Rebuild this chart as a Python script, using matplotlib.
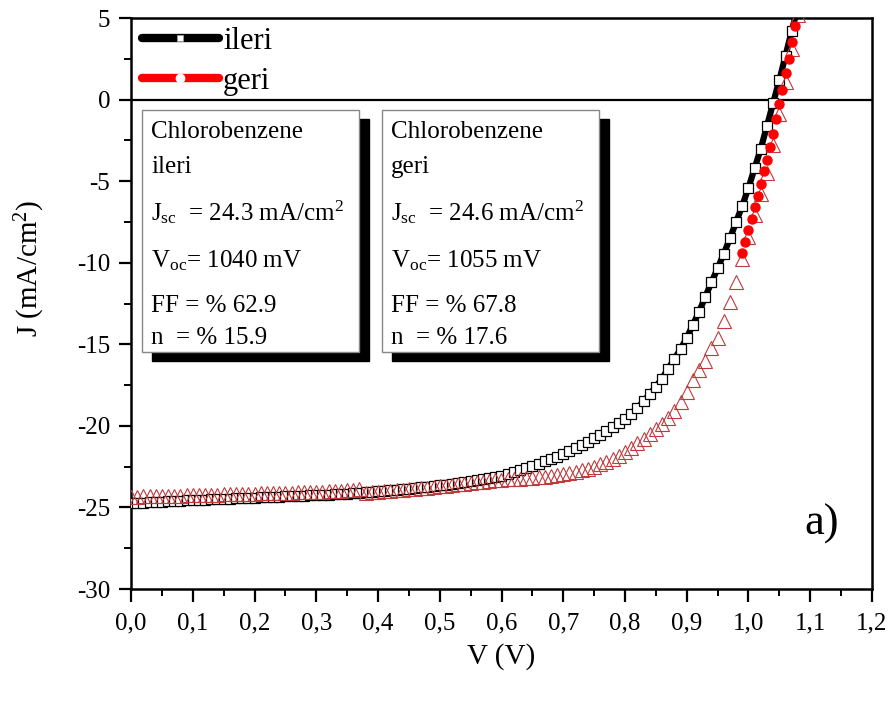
import matplotlib
matplotlib.use("Agg")
import matplotlib.pyplot as plt
from matplotlib.lines import Line2D
from matplotlib.patches import Rectangle
from matplotlib.ticker import FuncFormatter, MultipleLocator

plt.rcParams["font.family"] = ["Liberation Serif", "DejaVu Serif"]
plt.rcParams["mathtext.fontset"] = "custom"
plt.rcParams["mathtext.rm"] = "Liberation Serif"
plt.rcParams["mathtext.it"] = "Liberation Serif:italic"
plt.rcParams["axes.unicode_minus"] = False

# voltage sweep (V)
voltage = [
    0.00, 0.01, 0.02, 0.03, 0.04, 0.05, 0.06, 0.07, 0.08, 0.09,
    0.10, 0.11, 0.12, 0.13, 0.14, 0.15, 0.16, 0.17, 0.18, 0.19,
    0.20, 0.21, 0.22, 0.23, 0.24, 0.25, 0.26, 0.27, 0.28, 0.29,
    0.30, 0.31, 0.32, 0.33, 0.34, 0.35, 0.36, 0.37, 0.38, 0.39,
    0.40, 0.41, 0.42, 0.43, 0.44, 0.45, 0.46, 0.47, 0.48, 0.49,
    0.50, 0.51, 0.52, 0.53, 0.54, 0.55, 0.56, 0.57, 0.58, 0.59,
    0.60, 0.61, 0.62, 0.63, 0.64, 0.65, 0.66, 0.67, 0.68, 0.69,
    0.70, 0.71, 0.72, 0.73, 0.74, 0.75, 0.76, 0.77, 0.78, 0.79,
    0.80, 0.81, 0.82, 0.83, 0.84, 0.85, 0.86, 0.87, 0.88, 0.89,
    0.90, 0.91, 0.92, 0.93, 0.94, 0.95, 0.96, 0.97, 0.98, 0.99,
    1.00, 1.01, 1.02, 1.03, 1.04, 1.05, 1.06, 1.07, 1.08,
]

# forward scan (ileri), mA/cm2
j_ileri = [
    -24.75, -24.73, -24.71, -24.69, -24.67, -24.65, -24.63, -24.61, -24.59, -24.57,
    -24.55, -24.54, -24.52, -24.51, -24.49, -24.48, -24.46, -24.45, -24.43, -24.42,
    -24.40, -24.38, -24.37, -24.35, -24.34, -24.32, -24.31, -24.29, -24.28, -24.26,
    -24.25, -24.23, -24.21, -24.19, -24.17, -24.15, -24.12, -24.09, -24.06, -24.03,
    -24.00, -23.97, -23.94, -23.91, -23.88, -23.85, -23.81, -23.77, -23.73, -23.69,
    -23.65, -23.61, -23.56, -23.51, -23.46, -23.40, -23.34, -23.27, -23.20, -23.12,
    -23.05, -22.95, -22.85, -22.72, -22.58, -22.45, -22.32, -22.18, -22.03, -21.88,
    -21.72, -21.55, -21.36, -21.16, -20.96, -20.75, -20.54, -20.31, -20.08, -19.84,
    -19.60, -19.25, -18.90, -18.50, -18.05, -17.60, -17.10, -16.50, -15.90, -15.30,
    -14.60, -13.80, -13.00, -12.10, -11.20, -10.35, -9.45, -8.50, -7.50, -6.50,
    -5.40, -4.20, -3.00, -1.60, -0.20, 1.20, 2.70, 4.20, 5.70,
]

# reverse scan (geri), open triangles
j_geri = [
    -24.35, -24.34, -24.33, -24.32, -24.31, -24.30, -24.29, -24.28, -24.27, -24.26,
    -24.25, -24.24, -24.23, -24.22, -24.21, -24.20, -24.19, -24.18, -24.17, -24.16,
    -24.15, -24.14, -24.13, -24.12, -24.11, -24.10, -24.09, -24.08, -24.07, -24.06,
    -24.05, -24.03, -24.01, -23.99, -23.97, -23.95, -23.92, -23.90, -24.10, -24.08,
    -24.05, -24.02, -23.99, -23.96, -23.93, -23.90, -23.86, -23.82, -23.78, -23.74,
    -23.70, -23.66, -23.62, -23.58, -23.54, -23.50, -23.46, -23.42, -23.38, -23.34,
    -23.30, -23.28, -23.26, -23.24, -23.22, -23.20, -23.16, -23.11, -23.06, -23.01,
    -22.95, -22.88, -22.80, -22.72, -22.62, -22.50, -22.36, -22.21, -22.03, -21.83,
    -21.60, -21.35, -21.08, -20.80, -20.50, -20.20, -19.88, -19.52, -19.10, -18.55,
    -17.90, -17.20, -16.60, -16.00, -15.20, -14.60, -13.60, -12.40, -11.20, -9.80,
    -8.40, -7.10, -5.80, -4.50, -2.80, -0.90, 1.10, 3.10, 5.20,
]

# reverse scan, red dotted segment near Voc
v_geri_dots = [0.990, 0.995, 1.000, 1.005, 1.010, 1.015, 1.020, 1.025, 1.030, 1.035,
               1.040, 1.045, 1.050, 1.055, 1.060, 1.065, 1.070, 1.075, 1.080]
j_geri_dots = [-9.4, -8.7, -8.0, -7.3, -6.6, -5.9, -5.2, -4.4, -3.7, -2.9,
               -2.1, -1.2, -0.3, 0.6, 1.6, 2.5, 3.5, 4.5, 5.5]

legend_labels = ["ileri", "geri"]
box_ileri = ["Chlorobenzene", "ileri", r"J$_{\rm sc}$  = 24.3 mA/cm$^{2}$",
             r"V$_{\rm oc}$= 1040 mV", "FF = % 62.9", "n  = % 15.9"]
box_geri = ["Chlorobenzene", "geri", r"J$_{\rm sc}$  = 24.6 mA/cm$^{2}$",
            r"V$_{\rm oc}$= 1055 mV", "FF = % 67.8", "n  = % 17.6"]

W, H = 895, 704
fig = plt.figure(figsize=(W / 100, H / 100), dpi=100)
ax = fig.add_axes([131 / W, 1 - 589 / H, 741 / W, 571 / H])


def fx(x):
    return x / W


def fy(y):
    return 1 - y / H


ax.plot(voltage, j_ileri, color="black", lw=4.5, marker="s", ms=7,
        mfc="white", mec="black", mew=0.9, zorder=3)
ax.plot(voltage, j_geri, ls="none", marker="^", ms=9.5, mfc="none",
        mec="#c0393b", mew=0.8, zorder=4)
ax.plot(v_geri_dots, j_geri_dots, ls="none", marker="o", ms=6.5,
        color="red", zorder=5)
ax.axhline(0, color="black", lw=1.6, zorder=2)

ax.set_xlim(0, 1.2)
ax.set_ylim(-30, 5)
ax.xaxis.set_major_locator(MultipleLocator(0.1))
ax.xaxis.set_minor_locator(MultipleLocator(0.05))
ax.yaxis.set_major_locator(MultipleLocator(5))
ax.yaxis.set_minor_locator(MultipleLocator(2.5))
ax.xaxis.set_major_formatter(FuncFormatter(lambda v, p: f"{v:.1f}".replace(".", ",")))
ax.yaxis.set_major_formatter(FuncFormatter(lambda v, p: f"{v:.0f}"))
ax.tick_params(which="major", direction="out", length=9, width=1.6,
               labelsize=18, pad=6)
ax.tick_params(which="minor", direction="out", length=5, width=1.4)
ax.tick_params(axis="x", which="major", pad=8)
for s in ax.spines.values():
    s.set_linewidth(1.8)

ax.set_xlabel("V (V)", fontsize=21, labelpad=6)
fig.text(fx(30), fy(268), r"J (mA/cm$^{2}$)", fontsize=21, rotation=90,
         ha="center", va="center")

handles = [
    Line2D([], [], color="black", lw=6, marker="s", ms=5, mfc="white",
           mec="#999999", mew=0.6, solid_capstyle="round"),
    Line2D([], [], color="red", lw=6, marker="o", ms=6, mfc="white",
           mec="white", solid_capstyle="round"),
]
ax.legend(handles, legend_labels, loc="upper left", bbox_to_anchor=(0.009, 0.993),
          frameon=False, fontsize=22, handlelength=2.5, handletextpad=0.15,
          labelspacing=0.38, borderpad=0.15, borderaxespad=0.0)

# parameter boxes with drop shadow
for left, lines in [(142, box_ileri), (382, box_geri)]:
    right, top, bottom = left + 217, 110, 352
    fig.add_artist(Rectangle((fx(left + 10), fy(bottom + 9)),
                             fx(right - left), fy(top) - fy(bottom),
                             transform=fig.transFigure, facecolor="black",
                             edgecolor="black", zorder=6))
    fig.add_artist(Rectangle((fx(left), fy(bottom)), fx(right - left),
                             fy(top) - fy(bottom), transform=fig.transFigure,
                             facecolor="white", edgecolor="#888888", lw=1.0,
                             zorder=7))
    for text, base in zip(lines, [138, 173, 220, 267, 312, 344]):
        fig.text(fx(left + 9), fy(base), text, fontsize=18, ha="left",
                 va="baseline", zorder=8)

ax.text(1.118, -26.0, "a)", fontsize=32, ha="center", va="center")

fig.savefig("out.png", dpi=100)
